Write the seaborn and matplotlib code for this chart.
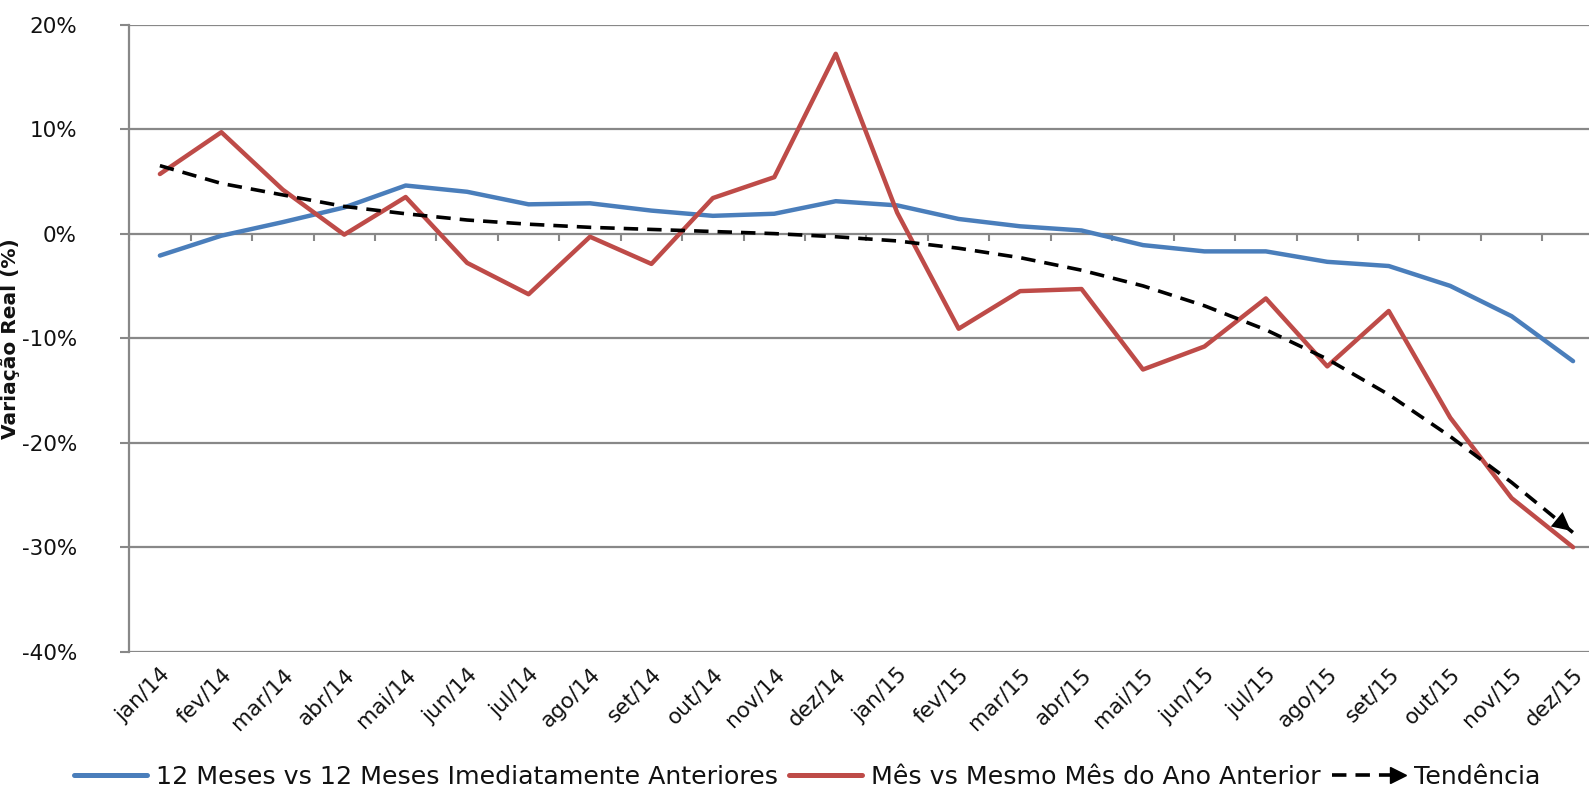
import matplotlib.pyplot as plt
import pandas as pd
import seaborn as sns
from matplotlib.lines import Line2D
from matplotlib.legend_handler import HandlerBase


# Month labels (x axis)
months = [
    "jan/14", "fev/14", "mar/14", "abr/14", "mai/14", "jun/14",
    "jul/14", "ago/14", "set/14", "out/14", "nov/14", "dez/14",
    "jan/15", "fev/15", "mar/15", "abr/15", "mai/15", "jun/15",
    "jul/15", "ago/15", "set/15", "out/15", "nov/15", "dez/15",
]

# 12 Meses vs 12 Meses Imediatamente Anteriores (%)
twelve_months = [
    -2.1, -0.2, 1.1, 2.5, 4.6, 4.0, 2.8, 2.9, 2.2, 1.7, 1.9, 3.1,
    2.7, 1.4, 0.7, 0.3, -1.1, -1.7, -1.7, -2.7, -3.1, -5.0, -7.9, -12.2,
]

# Mês vs Mesmo Mês do Ano Anterior (%)
same_month = [
    5.7, 9.7, 4.2, -0.1, 3.5, -2.8, -5.8, -0.3, -2.9, 3.4, 5.4, 17.2,
    2.0, -9.1, -5.5, -5.3, -13.0, -10.8, -6.2, -12.7, -7.4, -17.6, -25.3, -30.0,
]

# Tendência (%)
trend = [
    6.5, 4.8, 3.7, 2.6, 1.9, 1.3, 0.9, 0.6, 0.4, 0.2, 0.0, -0.3,
    -0.7, -1.4, -2.3, -3.5, -5.0, -6.9, -9.2, -12.0, -15.4, -19.4, -23.8, -28.6,
]

y_ticks = [-40, -30, -20, -10, 0, 10, 20]

label_blue = "12 Meses vs 12 Meses Imediatamente Anteriores"
label_red = "Mês vs Mesmo Mês do Ano Anterior"
label_trend = "Tendência"

blue = "#4a7ebb"
red = "#be4b48"
grid_gray = "#888888"
text_color = "#111111"
dash_pattern = [4, 2.5]


class HandlerDashArrow(HandlerBase):
    # Legend key: dashed line ending in a triangle, like "- - >"
    def create_artists(self, legend, orig_handle, xdescent, ydescent,
                       width, height, fontsize, trans):
        y = height / 2 - ydescent
        x0 = -xdescent
        line = Line2D([x0, x0 + width * 0.80], [y, y], color="black",
                      lw=2.6, dashes=dash_pattern)
        head = Line2D([x0 + width * 0.90], [y], color="black", marker=">",
                      markersize=11, linestyle="None")
        line.set_transform(trans)
        head.set_transform(trans)
        return [line, head]


sns.set_theme(style="white")
plt.rcParams["font.family"] = ["DejaVu Sans"]

# Long-form table for seaborn
pos = list(range(len(months)))
df = pd.DataFrame({
    "pos": pos * 2,
    "valor": twelve_months + same_month,
    "serie": [label_blue] * len(months) + [label_red] * len(months),
})
df_trend = pd.DataFrame({"pos": pos, "valor": trend})

fig = plt.figure(figsize=(15.89, 7.91), dpi=100)
# plot area runs slightly past the right edge, as in the original
ax = fig.add_axes([0.0813, 0.176, 0.928, 0.793])

# Gridlines
for yv in y_ticks:
    ax.axhline(yv, color=grid_gray, lw=1.6, zorder=0)

# Category axis crosses at 0%: small marks between categories, pointing down
boundaries = [p - 0.5 for p in pos] + [pos[-1] + 0.5]
ax.vlines(boundaries, -0.7, 0, color=grid_gray, lw=1.5, zorder=1)

sns.lineplot(
    data=df, x="pos", y="valor", hue="serie",
    palette={label_blue: blue, label_red: red},
    linewidth=3.2, ax=ax, legend=False, zorder=3,
)
sns.lineplot(
    data=df_trend, x="pos", y="valor", color="black",
    linewidth=2.6, ax=ax, legend=False, zorder=4,
)
ax.lines[-1].set_dashes(dash_pattern)

# Arrow head at end of trend line
ax.annotate(
    "", xy=(pos[-1], trend[-1]), xytext=(pos[-2], trend[-2]),
    arrowprops=dict(arrowstyle="-|>,head_length=0.55,head_width=0.28",
                    color="black", lw=0, mutation_scale=24),
    zorder=5,
)

ax.set_xlim(-0.5, len(months) - 0.5)
ax.set_ylim(-40, 20)

# Y axis
ax.set_yticks(y_ticks)
ax.set_yticklabels([f"{v}%" for v in y_ticks], fontsize=15.5, color=text_color)
ax.tick_params(axis="y", length=6.5, width=1.5, color=grid_gray, left=True, pad=31)
ax.set_ylabel("Variação Real (%)", fontsize=14.5, fontweight="bold",
              color=text_color)
ax.yaxis.set_label_coords(-0.074, 0.5)

# X tick labels at bottom, no marks
ax.set_xticks(pos)
ax.set_xticklabels(months, rotation=45, ha="right", rotation_mode="anchor",
                   fontsize=15.5, color=text_color)
ax.tick_params(axis="x", length=0, pad=9)
ax.set_xlabel("")

for side in ["top", "right", "bottom"]:
    ax.spines[side].set_visible(False)
ax.spines["left"].set_color(grid_gray)
ax.spines["left"].set_linewidth(1.6)

# Legend
handles = [
    Line2D([0], [0], color=blue, lw=3.6),
    Line2D([0], [0], color=red, lw=3.6),
    Line2D([0], [0], color="black", lw=2.6),
]
fig.legend(
    handles, [label_blue, label_red, label_trend],
    loc="center", bbox_to_anchor=(0.508, 0.018), ncol=3, frameon=False,
    fontsize=18.2, handlelength=2.9, handletextpad=0.35, columnspacing=0.45,
    labelcolor=text_color,
    handler_map={handles[2]: HandlerDashArrow()},
)

fig.savefig("out.png", dpi=100)
